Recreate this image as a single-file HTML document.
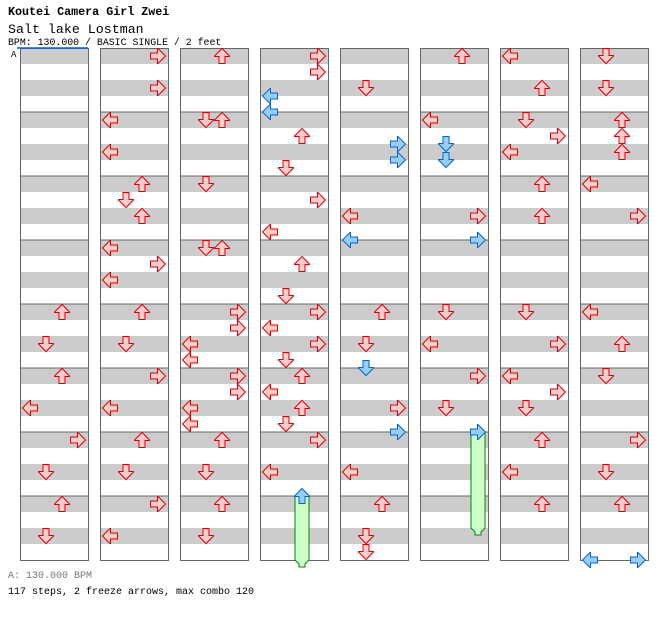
<!DOCTYPE html>
<html><head><meta charset="utf-8">
<style>
body{margin:0;background:#fff;width:672px;height:620px;overflow:hidden;font-family:"Liberation Mono",monospace;}
svg{position:absolute;left:0;top:0;}
</style></head>
<body>
<svg width="672" height="620" id="chart">
<text x="8" y="15" font-size="11.7" font-weight="bold" font-family="Liberation Mono, monospace">Koutei Camera Girl Zwei</text>
<text x="8" y="33" font-size="13.3" font-family="Liberation Mono, monospace">Salt lake Lostman</text>
<text x="8" y="45" font-size="9.9" font-family="Liberation Mono, monospace">BPM: 130.000 / BASIC SINGLE / 2 feet</text>
<text x="8" y="578" font-size="10" fill="#777" font-family="Liberation Mono, monospace">A: 130.000 BPM</text>
<text x="8" y="594" font-size="10" font-family="Liberation Mono, monospace">117 steps, 2 freeze arrows, max combo 120</text>
<g id="grid"></g>
<g id="holds"></g>
<g id="arrows"></g>
<line x1="17" y1="48" x2="88" y2="48" stroke="#06c" stroke-width="1.5"/>
<text x="11" y="57" font-size="9" font-family="Liberation Mono, monospace">A</text>
</svg>
<script>
// lanes: 0=left 1=down 2=up 3=right ; k = eighth-note index from column top
const colCount = 8;
const notes = [
 [[2,33],[1,37],[2,41],[0,45],[3,49],[1,53],[2,57],[1,61]],
 [[3,1],[3,5],[0,9],[0,13],[2,17],[1,19],[2,21],[0,25],[3,27],[0,29],[2,33],[1,37],[3,41],[0,45],[2,49],[1,53],[3,57],[0,61]],
 [[2,1],[1,9],[2,9],[1,17],[1,25],[2,25],[3,33],[3,35],[0,37],[0,39],[3,41],[3,43],[0,45],[0,47],[2,49],[1,53],[2,57],[1,61]],
 [[3,1],[3,3],[0,6],[0,8],[2,11],[1,15],[3,19],[0,23],[2,27],[1,31],[3,33],[0,35],[3,37],[1,39],[2,41],[0,43],[2,45],[1,47],[3,49],[0,53],[2,56]],
 [[1,5],[3,12],[3,14],[0,21],[0,24],[2,33],[1,37],[1,40],[3,45],[3,48],[0,53],[2,57],[1,61],[1,63]],
 [[2,1],[0,9],[1,12],[1,14],[3,21],[3,24],[1,33],[0,37],[3,41],[1,45],[3,48]],
 [[0,1],[2,5],[1,9],[3,11],[0,13],[2,17],[2,21],[1,33],[3,37],[0,41],[3,43],[1,45],[2,49],[0,53],[2,57]],
 [[1,1],[1,5],[2,9],[2,11],[2,13],[0,17],[3,21],[0,33],[2,37],[1,41],[3,49],[1,53],[2,57],[0,64],[3,64]]
];
const holds = [[3,2,56,64],[5,3,48,60]]; // column, lane, startK, endK
const laneNames = ['left','down','up','right'];
const NS='http://www.w3.org/2000/svg';
const colX = c => 20 + 80*c;
const laneX = (c,l) => colX(c) + 10 + 16*l;
const yOf = k => 48 + 8*k;
const gridTop=48, gridH=512;
const grid=document.getElementById('grid');
for(let c=0;c<colCount;c++){
  const g=document.createElementNS(NS,'g');
  
  
  for(let s=0;s<32;s++){
    const r=document.createElementNS(NS,'rect');
    r.setAttribute('x',colX(c));r.setAttribute('y',gridTop+16*s);
    r.setAttribute('width',68);r.setAttribute('height',16);
    r.setAttribute('fill',s%2===0?'#cccccc':'#ffffff');
    g.appendChild(r);
  }
  for(let m=1;m<8;m++){
    const l=document.createElementNS(NS,'line');
    
    
    l.setAttribute('x1',colX(c));l.setAttribute('x2',colX(c)+68);
    l.setAttribute('y1',gridTop+64*m);l.setAttribute('y2',gridTop+64*m);
    l.setAttribute('stroke','#666');l.setAttribute('stroke-width','1');
    g.appendChild(l);
  }
  const b=document.createElementNS(NS,'rect');
  b.setAttribute('x',colX(c)+0.5);b.setAttribute('y',gridTop+0.5);
  b.setAttribute('width',68);b.setAttribute('height',gridH);
  b.setAttribute('fill','none');b.setAttribute('stroke','#666');
  g.appendChild(b);
  grid.appendChild(g);
}
const hg=document.getElementById('holds');
holds.forEach(h=>{
  const x=laneX(h[0],h[1]), y1=yOf(h[2]), y2=yOf(h[3]);
  const p=document.createElementNS(NS,'path');
  
  
  p.setAttribute('d',`M${x-7},${y1} L${x+7},${y1} L${x+7},${y2} L${x+3},${y2+4} L${x+3},${y2+7} L${x-3},${y2+7} L${x-3},${y2+4} L${x-7},${y2} Z`);
  p.setAttribute('fill','#ccffcc');p.setAttribute('stroke','#080');p.setAttribute('stroke-width','1');
  hg.appendChild(p);
});
const ag=document.getElementById('arrows');
const rot=[-90,180,0,90];
const shape='M0,-7.5 L7.5,0 L7.5,0.5 L3,0.5 L3,7.5 L-3,7.5 L-3,0.5 L-7.5,0.5 L-7.5,0 Z';
notes.forEach((col,c)=>col.forEach(n=>{
  const x=laneX(c,n[0]), y=yOf(n[1]);
  const blue = n[1]%2===0;
  const p=document.createElementNS(NS,'path');
  
  
  p.setAttribute('d',shape);
  p.setAttribute('transform',`translate(${x},${y}) rotate(${rot[n[0]]})`);
  p.setAttribute('fill',blue?'#99ccff':'#ffcccc');
  p.setAttribute('stroke',blue?'#0066cc':'#dd0000');
  p.setAttribute('stroke-width','1');
  ag.appendChild(p);
}));
</script>
</body></html>
